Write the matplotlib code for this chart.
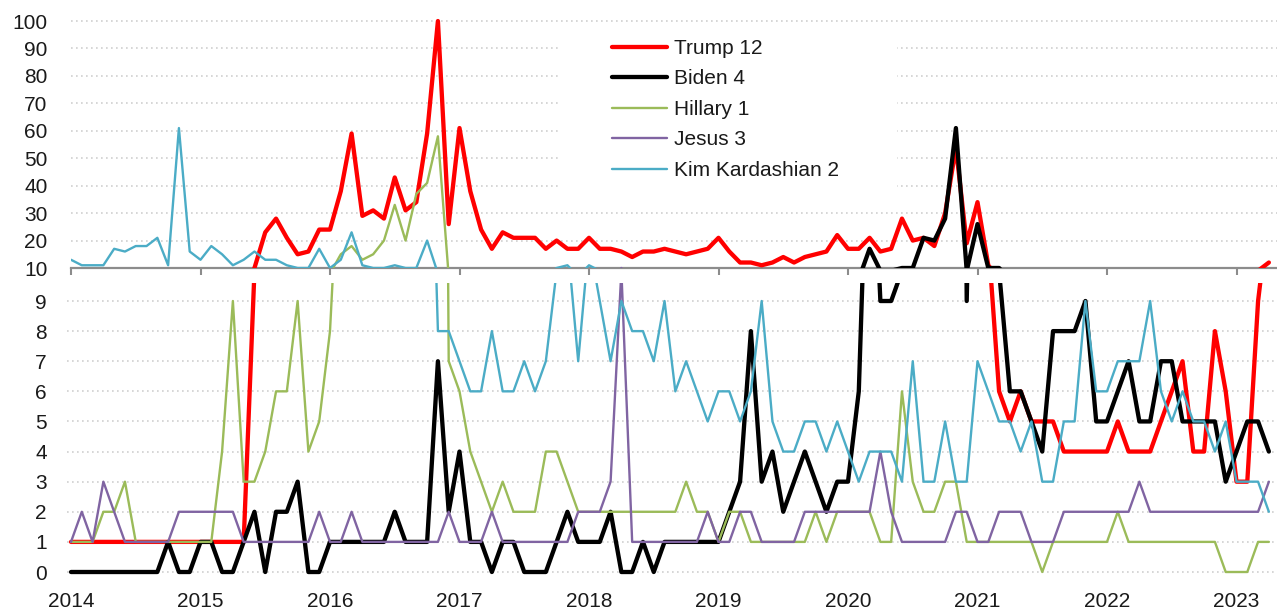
import numpy as np
import pandas as pd
import matplotlib
matplotlib.use('Agg')
import matplotlib.pyplot as plt
from matplotlib.patches import Rectangle

plt.rcParams['font.family'] = ['Liberation Sans', 'DejaVu Sans']

# Google-Trends style monthly interest, Jan 2014 .. Apr 2023
months = pd.date_range('2014-01-01', periods=112, freq='MS')

trump = [1, 1, 1, 1, 1, 1, 1, 1, 1, 1, 1, 1,
         1, 1, 1, 1, 1, 10, 23, 28, 21, 15, 16, 24,
         24, 38, 59, 29, 31, 28, 43, 31, 34, 59, 100, 26,
         61, 38, 24, 17, 23, 21, 21, 21, 17, 20, 17, 17,
         21, 17, 17, 16, 14, 16, 16, 17, 16, 15, 16, 17,
         21, 16, 12, 12, 11, 12, 14, 12, 14, 15, 16, 22,
         17, 17, 21, 16, 17, 28, 20, 21, 18, 30, 54, 19,
         34, 11, 6, 5, 6, 5, 5, 5, 4, 4, 4, 4,
         4, 5, 4, 4, 4, 5, 6, 7, 4, 4, 8, 6,
         3, 3, 9, 12]
biden = [0, 0, 0, 0, 0, 0, 0, 0, 0, 1, 0, 0,
         1, 1, 0, 0, 1, 2, 0, 2, 2, 3, 0, 0,
         1, 1, 1, 1, 1, 1, 2, 1, 1, 1, 7, 2,
         4, 1, 1, 0, 1, 1, 0, 0, 0, 1, 2, 1,
         1, 1, 2, 0, 0, 1, 0, 1, 1, 1, 1, 1,
         1, 2, 3, 8, 3, 4, 2, 3, 4, 3, 2, 3,
         3, 6, 17, 9, 9, 10, 10, 21, 20, 28, 61, 9,
         26, 10, 10, 6, 6, 5, 4, 8, 8, 8, 9, 5,
         5, 6, 7, 5, 5, 7, 7, 5, 5, 5, 5, 3,
         4, 5, 5, 4]
hillary = [1, 1, 1, 2, 2, 3, 1, 1, 1, 1, 1, 1,
           1, 1, 4, 9, 3, 3, 4, 6, 6, 9, 4, 5,
           8, 15, 18, 13, 15, 20, 33, 20, 37, 41, 58, 7,
           6, 4, 3, 2, 3, 2, 2, 2, 4, 4, 3, 2,
           2, 2, 2, 2, 2, 2, 2, 2, 2, 3, 2, 2,
           1, 2, 2, 1, 1, 1, 1, 1, 1, 2, 1, 2,
           2, 2, 2, 1, 1, 6, 3, 2, 2, 3, 3, 1,
           1, 1, 1, 1, 1, 1, 0, 1, 1, 1, 1, 1,
           1, 2, 1, 1, 1, 1, 1, 1, 1, 1, 1, 0,
           0, 0, 1, 1]
jesus = [1, 2, 1, 3, 2, 1, 1, 1, 1, 1, 2, 2,
         2, 2, 2, 2, 1, 1, 1, 1, 1, 1, 1, 2,
         1, 1, 2, 1, 1, 1, 1, 1, 1, 1, 1, 2,
         1, 1, 1, 2, 1, 1, 1, 1, 1, 1, 1, 2,
         2, 2, 3, 10, 1, 1, 1, 1, 1, 1, 1, 2,
         1, 1, 2, 2, 1, 1, 1, 1, 2, 2, 2, 2,
         2, 2, 2, 4, 2, 1, 1, 1, 1, 1, 2, 2,
         1, 1, 2, 2, 2, 1, 1, 1, 2, 2, 2, 2,
         2, 2, 2, 3, 2, 2, 2, 2, 2, 2, 2, 2,
         2, 2, 2, 3]
kim = [13, 11, 11, 11, 17, 16, 18, 18, 21, 11, 61, 16,
       13, 18, 15, 11, 13, 16, 13, 13, 11, 10, 10, 17,
       10, 13, 23, 11, 10, 10, 11, 10, 10, 20, 8, 8,
       7, 6, 6, 8, 6, 6, 7, 6, 7, 10, 11, 7,
       11, 9, 7, 9, 8, 8, 7, 9, 6, 7, 6, 5,
       6, 6, 5, 6, 9, 5, 4, 4, 5, 5, 4, 5,
       4, 3, 4, 4, 4, 3, 7, 3, 3, 5, 3, 3,
       7, 6, 5, 5, 4, 5, 3, 3, 5, 5, 9, 6,
       6, 7, 7, 7, 9, 6, 5, 6, 5, 5, 4, 5,
       3, 3, 3, 2]

labels = ['Trump 12', 'Biden 4', 'Hillary 1', 'Jesus 3', 'Kim Kardashian 2']
series = [trump, biden, hillary, jesus, kim]
colors = ['#FF0000', '#000000', '#9BBB59', '#8064A2', '#4BACC6']
widths = [3.1, 3.1, 1.7, 1.7, 1.7]
years = list(range(2014, 2024))

x = months.year + (months.month - 1) / 12.0

W, H = 1277, 612
PX_YEAR = 129.5
X0 = 71  # pixel of Jan 2014


def rect(left, top, right, bottom):
    return [left / W, 1 - bottom / H, (right - left) / W, (bottom - top) / H]


def xlim_for(left, right):
    return (2014 + (left - X0) / PX_YEAR, 2014 + (right - X0) / PX_YEAR)


fig = plt.figure(figsize=(W / 100, H / 100), dpi=100)
ax_top = fig.add_axes(rect(71, 8, 1277, 268))
ax_bot = fig.add_axes(rect(67, 283, 1277, 580))

txt = '#1a1a1a'
grid_kw = dict(color='#d0d0d0', linestyle=(0, (1, 2)), linewidth=1.2)

for ax in (ax_top, ax_bot):
    for s, c, lw, lab in zip(series, colors, widths, labels):
        ax.plot(x, s, color=c, lw=lw, label=lab, zorder=3,
                solid_joinstyle='round', solid_capstyle='round')
    for sp in ax.spines.values():
        sp.set_visible(False)
    ax.set_axisbelow(True)
    ax.yaxis.grid(True, **grid_kw)
    ax.set_xticks(years)
    ax.tick_params(axis='y', length=0, labelsize=15, labelcolor=txt)

# upper panel: 10 .. 100
ax_top.set_xlim(*xlim_for(71, 1277))
ax_top.set_ylim(10, 10 + (268 - 8) / 2.744)
ax_top.set_yticks(range(10, 101, 10))
ax_top.tick_params(axis='y', pad=17)
ax_top.spines['bottom'].set_visible(True)
ax_top.spines['bottom'].set_color('#8c8c8c')
ax_top.spines['bottom'].set_linewidth(1.6)
ax_top.tick_params(axis='x', length=5, width=1.5, color='#8c8c8c',
                   labelbottom=False)

# lower panel: 0 .. 9
ax_bot.set_xlim(*xlim_for(67, 1277))
ax_bot.set_ylim(-(580 - 572) / 30.11, (572 - 283) / 30.11)
ax_bot.set_yticks(range(0, 10))
ax_bot.tick_params(axis='y', pad=14.5)
ax_bot.tick_params(axis='x', length=0, pad=8.5, labelsize=15, labelcolor=txt)
ax_bot.set_xticklabels([str(y) for y in years])

# white box behind legend hides the gridlines
ax_top.add_patch(Rectangle((560 / W, 1 - 200 / H), (897 - 560) / W, 175 / H,
                           transform=fig.transFigure, facecolor='white',
                           edgecolor='none', zorder=1))
handles, labs = ax_top.get_legend_handles_labels()
ax_top.legend(handles, labs, loc='upper left',
              bbox_to_anchor=(612 / W, 1 - 39 / H),
              bbox_transform=fig.transFigure, frameon=False, fontsize=15,
              handlelength=2.65, handletextpad=0.35, labelspacing=0.55,
              borderpad=0, borderaxespad=0, labelcolor=txt)

fig.savefig('out.png', dpi=100)
